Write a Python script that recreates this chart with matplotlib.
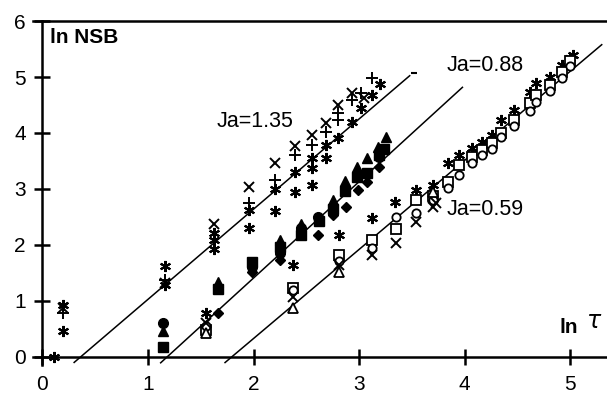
import numpy as np
import matplotlib.pyplot as plt

plt.rcParams['font.family'] = ['Liberation Sans', 'DejaVu Sans']

# fitted lines: y = slope * x + intercept, drawn between x_from and x_to
fit_labels = ['Ja=1.35', 'Ja=0.88', 'Ja=0.59']
fit_slope = [1.61, 1.72, 1.59]
fit_intercept = [-0.58, -2.03, -2.85]
fit_x_from = [0.30, 1.12, 1.73]
fit_x_to = [3.48, 3.98, 5.30]

# Ja = 1.35 (and the early points near ln tau ~ 0.1-0.2)
a_star_x = [0.11, 0.19, 0.19, 1.16, 1.16, 1.63, 1.63, 1.63, 1.96, 1.96, 2.20, 2.20,
            2.39, 2.39, 2.55, 2.55, 2.55, 2.69, 2.69, 2.80, 2.93, 3.02, 3.12, 3.20]
a_star_y = [0.00, 0.92, 0.46, 1.63, 1.29, 2.21, 2.09, 1.93, 2.63, 2.31, 3.00, 2.60,
            3.30, 2.95, 3.55, 3.37, 3.08, 3.79, 3.55, 3.91, 4.20, 4.45, 4.68, 4.88]
a_cross_x = [0.19, 1.16, 1.63, 1.96, 2.20, 2.39, 2.55, 2.69, 2.80, 2.93, 3.05]
a_cross_y = [0.87, 1.33, 2.37, 3.04, 3.46, 3.77, 3.96, 4.18, 4.50, 4.71, 4.62]
a_plus_x = [0.19, 1.16, 1.96, 2.20, 2.39, 2.55, 2.69, 2.80, 2.80, 2.93, 3.02, 3.12]
a_plus_y = [0.78, 1.38, 2.75, 3.16, 3.61, 3.79, 4.02, 4.36, 4.23, 4.59, 4.71, 4.98]
a_dash_x = [3.52]
a_dash_y = [5.07]

# Ja = 0.88, filled symbols
b_tri_x = [1.14, 1.66, 2.25, 2.45, 2.75, 2.87, 2.98, 3.08, 3.18, 3.26]
b_tri_y = [0.47, 1.34, 2.09, 2.38, 2.80, 3.15, 3.40, 3.55, 3.75, 3.93]
b_circ_x = [1.14, 1.99, 2.25, 2.45, 2.61, 3.19]
b_circ_y = [0.60, 1.60, 1.86, 2.30, 2.50, 3.57]
b_sq_x = [1.14, 1.66, 1.99, 2.25, 2.45, 2.62, 2.75, 2.87, 2.98, 3.08, 3.19, 3.24]
b_sq_y = [0.18, 1.22, 1.70, 1.96, 2.18, 2.43, 2.65, 2.96, 3.21, 3.29, 3.60, 3.72]
b_dia_x = [1.66, 1.99, 2.25, 2.61, 2.75, 2.88, 2.99, 3.08, 3.19]
b_dia_y = [0.78, 1.52, 1.73, 2.18, 2.54, 2.68, 2.98, 3.12, 3.40]

# Ja = 0.59, open symbols
c_star_x = [1.55, 2.37, 2.81, 3.12, 3.34, 3.54, 3.70, 3.84, 3.95, 4.07, 4.17, 4.26,
            4.35, 4.47, 4.62, 4.68, 4.81, 4.92, 5.00, 5.03]
c_star_y = [0.79, 1.64, 2.18, 2.48, 2.77, 2.98, 3.07, 3.46, 3.60, 3.73, 3.84, 3.96,
            4.23, 4.41, 4.73, 4.89, 5.00, 5.21, 5.34, 5.39]
c_sq_x = [1.55, 2.37, 2.81, 3.12, 3.35, 3.54, 3.70, 3.84, 3.95, 4.07, 4.17, 4.26,
          4.35, 4.47, 4.62, 4.68, 4.81, 4.92, 5.00]
c_sq_y = [0.48, 1.23, 1.82, 2.09, 2.29, 2.80, 2.88, 3.13, 3.43, 3.57, 3.70, 3.82,
          4.00, 4.23, 4.54, 4.68, 4.86, 5.09, 5.28]
c_circ_x = [1.55, 2.37, 2.81, 3.12, 3.35, 3.54, 3.70, 3.84, 3.95, 4.07, 4.17, 4.26,
            4.35, 4.47, 4.62, 4.68, 4.81, 4.92, 5.00]
c_circ_y = [0.55, 1.20, 1.72, 1.95, 2.50, 2.57, 2.80, 3.02, 3.25, 3.46, 3.60, 3.72,
            3.92, 4.12, 4.40, 4.55, 4.75, 4.98, 5.20]
c_cross_x = [1.55, 2.37, 2.81, 3.12, 3.35, 3.54, 3.70, 3.73]
c_cross_y = [0.60, 1.07, 1.64, 1.82, 2.04, 2.41, 2.68, 2.75]
c_tri_x = [1.55, 2.37, 2.81, 3.70]
c_tri_y = [0.43, 0.87, 1.52, 2.95]

label_pos_x = [1.65, 3.83, 3.83]
label_pos_y = [4.20, 5.20, 2.63]

xticks = [0, 1, 2, 3, 4, 5]
yticks = [0, 1, 2, 3, 4, 5, 6]

W, H = 607, 394
fig = plt.figure(figsize=(W / 100, H / 100), dpi=100)
ax = fig.add_axes([33 / W, (H - 365.4) / H, 574 / W, 344.4 / H])
ax.set_xlim(-0.09, 5.35)
ax.set_ylim(-0.15, 6.0)

# fit lines
for k in range(3):
    xx = np.array([fit_x_from[k], fit_x_to[k]])
    ax.plot(xx, fit_slope[k] * xx + fit_intercept[k], color='black', lw=1.1)

star = (6, 2, 0)
kw = dict(linestyle='none', color='black', clip_on=False)
ax.plot(a_star_x, a_star_y, marker=star, ms=8, mew=1.5, **kw)
ax.plot(a_cross_x, a_cross_y, marker='x', ms=7, mew=1.4, **kw)
ax.plot(a_plus_x, a_plus_y, marker='+', ms=8, mew=1.4, **kw)
ax.plot(a_dash_x, a_dash_y, marker='_', ms=5, mew=1.5, **kw)

ax.plot(b_tri_x, b_tri_y, marker='^', ms=7, **kw)
ax.plot(b_circ_x, b_circ_y, marker='o', ms=7, **kw)
ax.plot(b_sq_x, b_sq_y, marker='s', ms=6.5, **kw)
ax.plot(b_dia_x, b_dia_y, marker='D', ms=5.5, **kw)

ax.plot(c_star_x, c_star_y, marker=star, ms=8, mew=1.5, **kw)
ax.plot(c_sq_x, c_sq_y, marker='s', ms=6.5, mfc='white', mew=1.3, **kw)
ax.plot(c_circ_x, c_circ_y, marker='o', ms=6, mfc='white', mew=1.3, **kw)
ax.plot(c_cross_x, c_cross_y, marker='x', ms=7, mew=1.4, **kw)
ax.plot(c_tri_x, c_tri_y, marker='^', ms=7, mfc='white', mew=1.3, **kw)

for k in range(3):
    ax.text(label_pos_x[k], label_pos_y[k], fit_labels[k], fontsize=15.5,
            ha='left', va='center')

ax.text(0.07, 5.71, 'ln NSB', fontsize=15, fontweight='bold', ha='left', va='center')
ax.text(4.90, 0.52, 'ln', fontsize=15, fontweight='bold', ha='left', va='center')
ax.text(5.15, 0.64, r'$\tau$', fontsize=17, ha='left', va='center',
        family='DejaVu Serif')

# axes frame: left and bottom through the origin, top closes the box
ax.spines['left'].set_position(('data', 0))
ax.spines['bottom'].set_position(('data', 0))
ax.spines['right'].set_visible(False)
for s in ['left', 'bottom', 'top']:
    ax.spines[s].set_linewidth(1.8)

ax.set_xticks(xticks)
ax.set_yticks(yticks)
ax.tick_params(direction='inout', length=12, width=1.8, labelsize=15)
ax.tick_params(axis='x', pad=7)
ax.tick_params(axis='y', pad=6)

fig.savefig('out.png', dpi=100)
